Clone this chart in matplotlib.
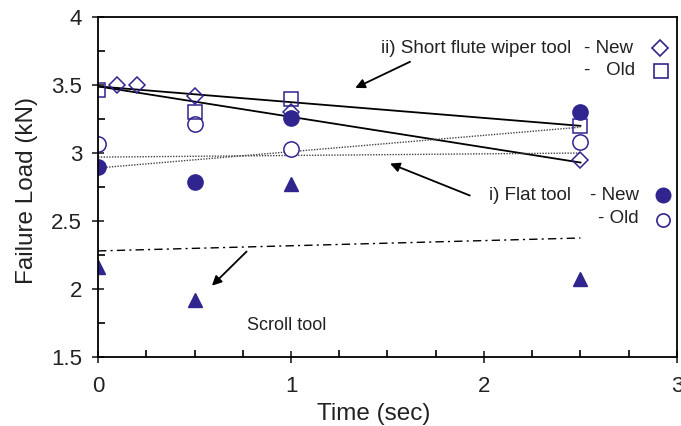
import numpy as np
import matplotlib.pyplot as plt
from matplotlib.ticker import MultipleLocator

plt.rcParams['font.family'] = ['Liberation Sans', 'DejaVu Sans']

# measured failure loads (kN) vs time (sec)
t_sfw_new = [0.1, 0.2, 0.5, 1.0, 2.5]
load_sfw_new = [3.50, 3.50, 3.42, 3.30, 2.95]
t_sfw_old = [0.0, 0.5, 1.0, 2.5]
load_sfw_old = [3.46, 3.30, 3.40, 3.20]
t_flat_new = [0.0, 0.5, 1.0, 2.5]
load_flat_new = [2.90, 2.79, 3.26, 3.30]
t_flat_old = [0.0, 0.5, 1.0, 2.5]
load_flat_old = [3.07, 3.21, 3.03, 3.08]
t_scroll = [0.0, 0.5, 1.0, 2.5]
load_scroll = [2.16, 1.92, 2.77, 2.07]

# trend lines (end points)
t_fit = [0.0, 2.5]
fit_sfw_old = [3.49, 3.20]
fit_sfw_new = [3.49, 2.93]
fit_flat_new = [2.89, 3.19]
fit_flat_old = [2.97, 3.00]
fit_scroll = [2.28, 2.375]

col = '#30258f'
txt = '#222222'

fig = plt.figure(figsize=(6.81, 4.26), dpi=100)
ax = fig.add_axes([0.144, 0.162, 0.850, 0.798])

ax.plot(t_fit, fit_sfw_old, color='black', lw=1.3)
ax.plot(t_fit, fit_sfw_new, color='black', lw=1.3)
ax.plot(t_fit, fit_flat_new, color='#444444', lw=1.0, ls=(0, (1, 1)))
ax.plot(t_fit, fit_flat_old, color='#444444', lw=1.0, ls=(0, (1, 1)))
ax.plot(t_fit, fit_scroll, color='black', lw=1.0, ls=(0, (6, 3, 1.5, 3)))

ax.plot(t_scroll, load_scroll, '^', color=col, ms=10, ls='none')
ax.plot(t_flat_new, load_flat_new, 'o', color=col, ms=11, ls='none')
ax.plot(t_flat_old, load_flat_old, 'o', mfc='white', mec=col, mew=1.1, ms=11, ls='none')
ax.plot(t_sfw_old, load_sfw_old, 's', mfc='none', mec=col, mew=1.1, ms=10, ls='none')
ax.plot(t_sfw_new, load_sfw_new, 'D', mfc='none', mec=col, mew=1.1, ms=8, ls='none')

ax.set_xlim(0, 3)
ax.set_ylim(1.5, 4)
ax.xaxis.set_major_locator(MultipleLocator(1))
ax.xaxis.set_minor_locator(MultipleLocator(0.25))
ax.yaxis.set_major_locator(MultipleLocator(0.5))
ax.yaxis.set_minor_locator(MultipleLocator(0.25))
ax.tick_params(which='major', direction='inout', length=9, width=1.2, labelsize=16, colors=txt)
ax.tick_params(which='minor', direction='in', length=5, width=1.2)
ax.tick_params(axis='x', which='major', pad=9)
ax.tick_params(axis='y', which='major', pad=7)
ax.set_yticks([1.5, 2, 2.5, 3, 3.5, 4], ['1.5', '2', '2.5', '3', '3.5', '4'])
for s in ax.spines.values():
    s.set_linewidth(1.3)

ax.set_xlabel('Time (sec)', fontsize=17.5, color=txt)
ax.set_ylabel('Failure Load (kN)', fontsize=17.5, color=txt)
ax.xaxis.set_label_coords(0.477, -0.135)
ax.yaxis.set_label_coords(-0.103, 0.49)

arrow = dict(arrowstyle='-|>', color='black', lw=1.3, mutation_scale=14)
ax.annotate('', xy=(1.32, 3.47), xytext=(1.63, 3.68), arrowprops=arrow)
ax.annotate('', xy=(1.50, 2.93), xytext=(1.94, 2.68), arrowprops=arrow)
ax.annotate('', xy=(0.58, 2.01), xytext=(0.78, 2.29), arrowprops=arrow)

fs = 13.5
ax.text(2.45, 3.77, 'ii) Short flute wiper tool', fontsize=fs, ha='right', va='center', color=txt)
ax.text(2.52, 3.77, '- New', fontsize=fs, ha='left', va='center', color=txt)
ax.text(2.52, 3.61, '-   Old', fontsize=fs, ha='left', va='center', color=txt)
ax.plot([2.91], [3.77], 'D', mfc='none', mec=col, mew=1.2, ms=8, clip_on=False)
ax.plot([2.92], [3.60], 's', mfc='none', mec=col, mew=1.2, ms=10, clip_on=False)

ax.text(2.45, 2.69, 'i) Flat tool', fontsize=fs, ha='right', va='center', color=txt)
ax.text(2.55, 2.69, '- New', fontsize=fs, ha='left', va='center', color=txt)
ax.text(2.59, 2.52, '- Old', fontsize=fs, ha='left', va='center', color=txt)
ax.plot([2.93], [2.69], 'o', color=col, ms=10.5, clip_on=False)
ax.plot([2.93], [2.51], 'o', mfc='white', mec=col, mew=1.2, ms=9.5, clip_on=False)

ax.text(0.98, 1.735, 'Scroll tool', fontsize=13, ha='center', va='center', color=txt)

fig.savefig('out.png', dpi=100)
